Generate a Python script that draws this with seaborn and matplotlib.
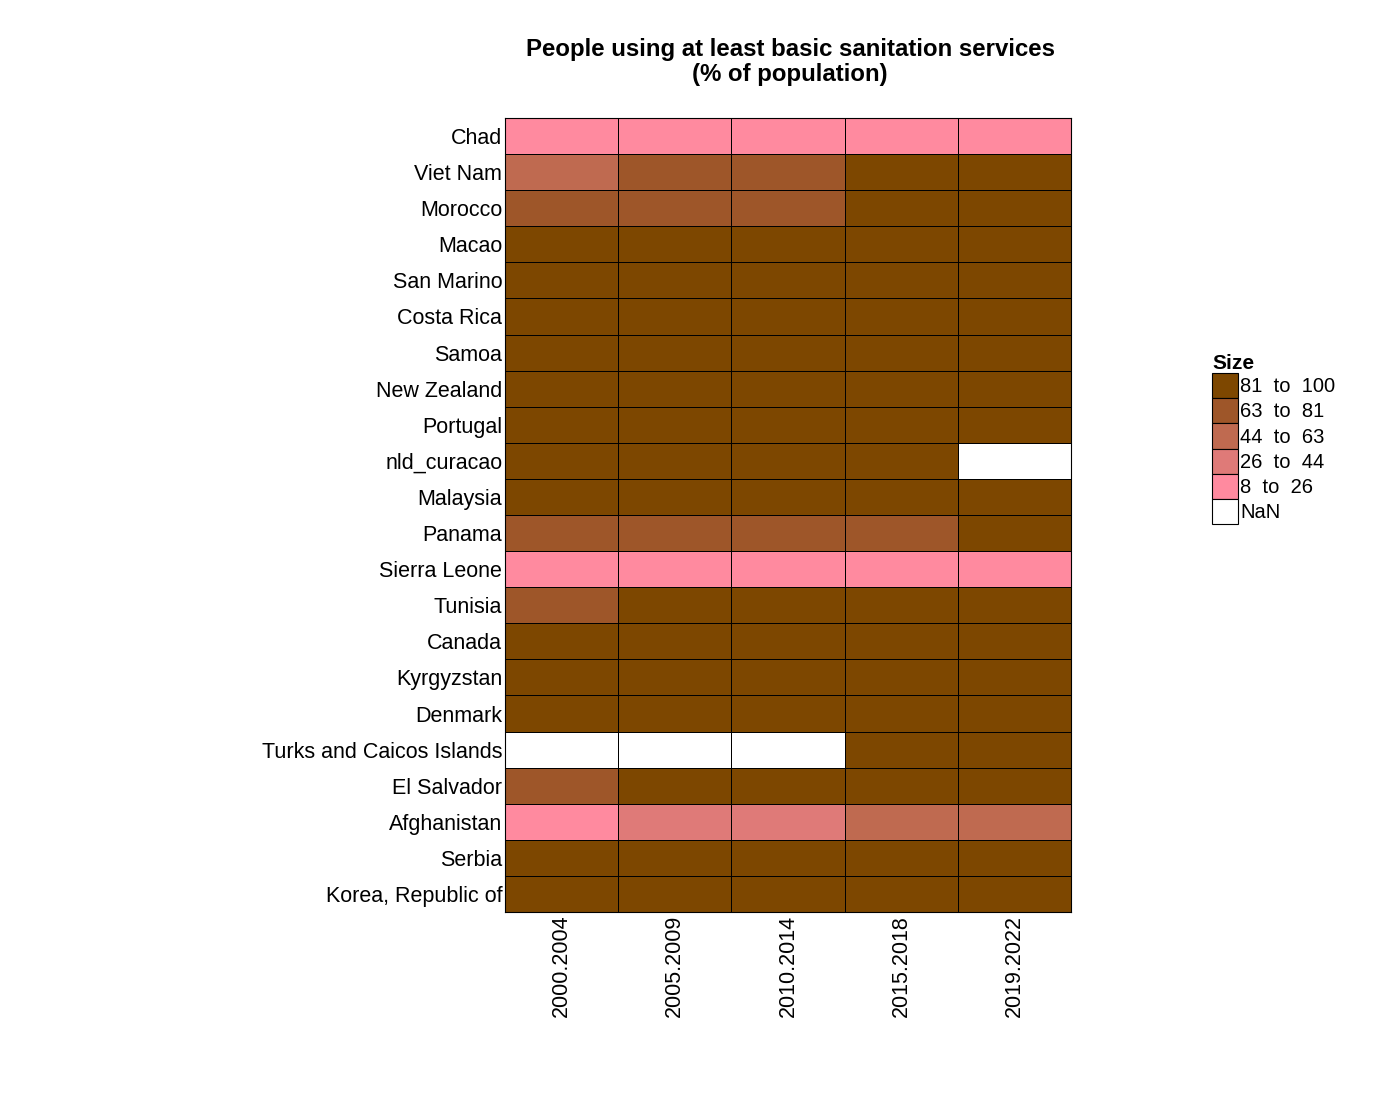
import numpy as np
import pandas as pd
import matplotlib
matplotlib.use("Agg")
import matplotlib.pyplot as plt
from matplotlib.colors import ListedColormap, BoundaryNorm
from matplotlib.patches import Patch
import seaborn as sns

countries = ["Chad", "Viet Nam", "Morocco", "Macao", "San Marino", "Costa Rica", "Samoa",
             "New Zealand", "Portugal", "nld_curacao", "Malaysia", "Panama", "Sierra Leone",
             "Tunisia", "Canada", "Kyrgyzstan", "Denmark", "Turks and Caicos Islands",
             "El Salvador", "Afghanistan", "Serbia", "Korea, Republic of"]
periods = ["2000.2004", "2005.2009", "2010.2014", "2015.2018", "2019.2022"]

v_2000_2004 = [9, 55, 70, 98, 99, 94, 92, 100, 99, 95, 92, 70, 12, 75, 99, 93, 100, np.nan, 75, 20, 95, 99]
v_2005_2009 = [10, 67, 73, 99, 99, 95, 93, 100, 99, 96, 94, 73, 13, 82, 99, 93, 100, np.nan, 82, 30, 96, 100]
v_2010_2014 = [11, 75, 78, 99, 99, 96, 94, 100, 99, 96, 95, 77, 14, 86, 99, 94, 100, np.nan, 86, 38, 97, 100]
v_2015_2018 = [12, 84, 84, 99, 99, 97, 95, 100, 99, 97, 96, 80, 15, 90, 99, 95, 100, 90, 89, 46, 97, 100]
v_2019_2022 = [13, 89, 88, 99, 99, 98, 95, 100, 99, np.nan, 97, 84, 16, 93, 99, 95, 100, 92, 92, 52, 98, 100]

bin_edges = [8, 26, 44, 63, 81, 100]
bin_labels = ["8  to  26", "26  to  44", "44  to  63", "63  to  81", "81  to  100"]
bin_colors = ["#FF8A9F", "#DF7A78", "#BF6A50", "#9E5629", "#7D4700"]

df = pd.DataFrame({
    periods[0]: v_2000_2004, periods[1]: v_2005_2009, periods[2]: v_2010_2014,
    periods[3]: v_2015_2018, periods[4]: v_2019_2022,
}, index=countries)

sns.set_theme(style="white")
plt.rcParams["font.family"] = ["Liberation Sans", "DejaVu Sans"]
plt.rcParams["text.color"] = "black"

fig = plt.figure(figsize=(14, 11), dpi=100)
ax = fig.add_axes([505/1400, 1-912/1100, (1071-505)/1400, (912-118)/1100])

cmap = ListedColormap(bin_colors)
norm = BoundaryNorm(bin_edges, cmap.N)
sns.heatmap(df, ax=ax, cmap=cmap, norm=norm, cbar=False, linewidths=0.6,
            linecolor="black", square=False)
for s in ax.spines.values():
    s.set_visible(True)
    s.set_color("black")
    s.set_linewidth(0.8)

ax.set_xlabel("")
ax.set_ylabel("")
ax.tick_params(axis="both", length=0, pad=2)
ax.set_xticklabels(periods, rotation=90, fontsize=15.5, color="black")
ax.set_yticklabels(countries, rotation=0, fontsize=15.5, color="black", va="center_baseline")

fig.text(790/1400, 1-62/1100, "People using at least basic sanitation services\n(% of population)",
         ha="center", va="center", fontsize=17.3, fontweight="bold", linespacing=1.1,
         color="black")

handles = [Patch(facecolor=c, edgecolor="black", linewidth=0.8) for c in bin_colors[::-1]]
handles.append(Patch(facecolor="white", edgecolor="black", linewidth=0.8))
labels = bin_labels[::-1] + ["NaN"]
leg = fig.legend(handles, labels, title="Size", loc="upper left",
                 bbox_to_anchor=(1208/1400, 1-350/1100), frameon=False,
                 fontsize=14.5, title_fontproperties={"weight": "bold", "size": 15},
                 handlelength=1.3, handleheight=1.55, handletextpad=0.1,
                 labelspacing=0.0, borderaxespad=0, borderpad=0.2)
leg._legend_box.align = "left"
for t in leg.get_texts():
    t.set_color("black")
leg.get_title().set_color("black")

fig.savefig("out.png", dpi=100)
